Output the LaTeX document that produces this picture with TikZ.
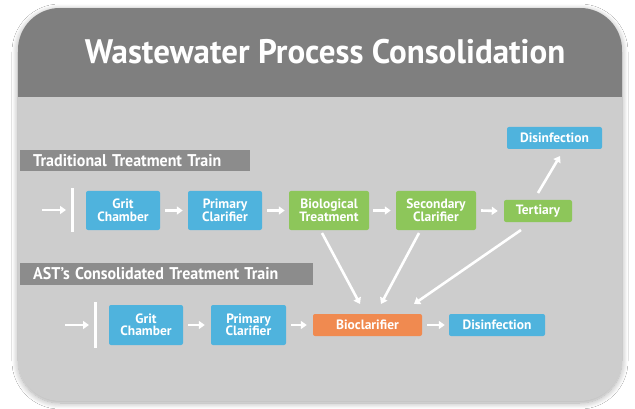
\documentclass[tikz,border=0pt]{standalone}
\usepackage{fontspec}
\setmainfont{PT Sans}
\usetikzlibrary{arrows.meta,shadows.blur}
\definecolor{hdr}{HTML}{7F7F7F}
\definecolor{bodyg}{HTML}{CDCDCD}
\definecolor{lblg}{HTML}{8C8C8C}
\definecolor{bluebox}{HTML}{4FB3DD}
\definecolor{greenbox}{HTML}{8DC65A}
\definecolor{orangebox}{HTML}{F08A50}
\tikzset{
  proc/.style={rounded corners=2pt, text=white, align=center, inner sep=0pt,
    font=\fontsize{13.5}{12.5}\selectfont\bfseries},
  bluep/.style={proc, fill=bluebox},
  greenp/.style={proc, fill=greenbox},
  orangep/.style={proc, fill=orangebox},
  flow/.style={draw=white, line width=2.6pt, -{Triangle[length=6pt,width=8pt]}},
  lbl/.style={fill=lblg, text=white, anchor=west, inner sep=0pt,
    font=\fontsize{17}{17}\selectfont\bfseries},
  bar/.style={draw=white, line width=3pt}
}
\begin{document}
\begin{tikzpicture}[x=1pt,y=-1pt]
\useasboundingbox (0,0) rectangle (635,409);
\fill[white] (0,0) rectangle (635,409);
% card
\fill[bodyg, rounded corners=42pt, blur shadow={shadow blur steps=10, shadow xshift=0pt, shadow yshift=-2pt, shadow opacity=35, shadow blur radius=6pt}]
  (18,8) rectangle (622,401);
\begin{scope}
  \clip[rounded corners=42pt] (18,8) rectangle (622,401);
  \fill[hdr] (18,8) rectangle (622,97);
\end{scope}
\node[text=white, font=\fontsize{34}{34}\selectfont\bfseries] (title) at (325,52)
  {\scalebox{0.97}[1]{Wastewater Process Consolidation}};
% labels
\node[lbl, minimum width=230pt, minimum height=21pt, text width=222pt] (l1) at (20,160.5)
  {\hspace*{9pt}\scalebox{0.94}[1]{Traditional Treatment Train}};
\node[lbl, minimum width=293pt, minimum height=22pt, text width=285pt] (l2) at (20,274)
  {\hspace*{9pt}\scalebox{0.94}[1]{AST's Consolidated Treatment Train}};
% row 1
\coordinate (in1) at (42,210);
\draw[bar] (72,188) -- (72,232);
\coordinate (bar1) at (66,210);
\node[bluep, minimum width=74pt, minimum height=39pt] (g1) at (123,210.5) {Grit\\Chamber};
\node[bluep, minimum width=74pt, minimum height=39pt] (p1) at (225,210.5) {Primary\\Clarifier};
\node[greenp, minimum width=80pt, minimum height=39pt] (b1) at (329,210.5) {Biological\\Treatment};
\node[greenp, minimum width=80pt, minimum height=39pt] (s1) at (436,210.5) {Secondary\\Clarifier};
\node[greenp, minimum width=68pt, minimum height=22pt] (t1) at (538,211) {Tertiary};
\node[bluep, minimum width=95pt, minimum height=22pt] (d1) at (554.5,138) {Disinfection};
\draw[flow] (in1) -- (bar1);
\draw[flow] ([xshift=5pt]g1.east) -- ([xshift=-5pt]p1.west);
\draw[flow] ([xshift=5pt]p1.east) -- ([xshift=-4pt]b1.west);
\draw[flow] ([xshift=4pt]b1.east) -- ([xshift=-5pt]s1.west);
\draw[flow] ([xshift=5pt]s1.east) -- ([xshift=-6pt]t1.west);
\coordinate (t1a) at (538,193);
\coordinate (d1a) at (560,156);
\draw[flow] (t1a) -- (d1a);
% row 2
\coordinate (in2) at (65,325);
\draw[bar] (95,302) -- (95,348);
\coordinate (bar2) at (89,325);
\node[bluep, minimum width=74pt, minimum height=40pt] (g2) at (146,325) {Grit\\Chamber};
\node[bluep, minimum width=75pt, minimum height=40pt] (p2) at (248.5,325) {Primary\\Clarifier};
\node[orangep, minimum width=109pt, minimum height=22pt] (bc) at (367.5,325) {Bioclarifier};
\node[bluep, minimum width=96pt, minimum height=22pt] (d2) at (497,325) {Disinfection};
\draw[flow] (in2) -- (bar2);
\draw[flow] ([xshift=5pt]g2.east) -- ([xshift=-6pt]p2.west);
\draw[flow] ([xshift=5pt]p2.east) -- ([xshift=-6pt]bc.west);
\draw[flow] ([xshift=5pt]bc.east) -- ([xshift=-4pt]d2.west);
% converging arrows
\coordinate (b1o) at (322,233);
\coordinate (bcA) at (360,304);
\coordinate (s1o) at (419,233);
\coordinate (bcB) at (381,304);
\coordinate (t1o) at (521,230);
\coordinate (bcC) at (414,304);
\draw[flow] (b1o) -- (bcA);
\draw[flow] (s1o) -- (bcB);
\draw[flow] (t1o) -- (bcC);
\end{tikzpicture}
\end{document}
